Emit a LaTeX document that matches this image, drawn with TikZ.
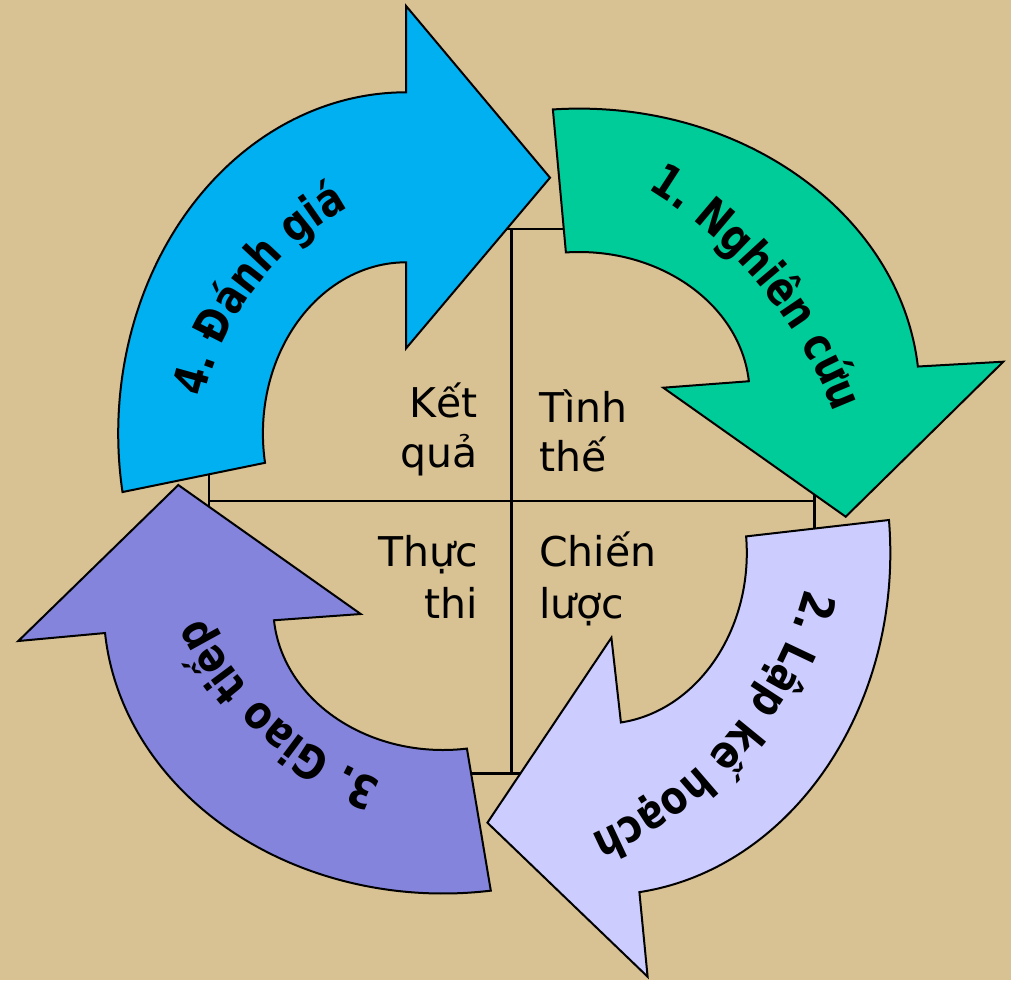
\documentclass[tikz,border=0pt]{standalone}
\usepackage{fontspec}
\usetikzlibrary{calc,decorations.text}
\newfontfamily\dvsans{DejaVu Sans}
\newfontfamily\dvnarrow{DejaVu Sans}[FakeStretch=0.83]
\definecolor{bgtan}{RGB}{216,193,146}
\definecolor{stepgreen}{RGB}{0,204,153}
\definecolor{steplilac}{RGB}{204,204,255}
\definecolor{steppurple}{RGB}{132,132,221}
\definecolor{stepblue}{RGB}{0,176,240}
\newcommand\celltext{\dvsans\fontsize{41}{50}\selectfont}
\newcommand\steptext{\dvnarrow\bfseries\fontsize{46}{46}\selectfont}

\begin{document}
\begin{tikzpicture}[x=1pt,y=1pt,
  gridline/.style={draw=black, line width=2.5pt},
  ringarrow/.style={draw=black, line width=2pt, line join=miter},
  cell/.style={inner sep=0pt, outer sep=0pt, font=\celltext, text=black}]

% canvas
\fill[bgtan] (0,0) rectangle (1011,-980);
\useasboundingbox (0,0) rectangle (1011,-980);

% centres of the four ring arrows
\coordinate (C1) at (579,-394.4);
\coordinate (C2) at (602.3,-552.8);
\coordinate (C3) at (443,-607.6);
\coordinate (C4) at (406.1,-433.4);

% 2x2 grid behind the arrows
\draw[gridline] (209,-229) rectangle (814.5,-773.3);
\draw[gridline] (511.7,-229) -- (511.7,-773.3);
\draw[gridline] (209,-501) -- (814.5,-501);

% quadrant captions
\node[cell, anchor=base east] (ket)   at (478,-417)   {Kết};
\node[cell, anchor=base east] (qua)   at (478,-467)   {quả};
\node[cell, anchor=base west] (tinh)  at (539,-422.5) {Tình};
\node[cell, anchor=base west] (the)   at (539,-471)   {thế};
\node[cell, anchor=base east] (thuc)  at (478,-566.7) {Thực};
\node[cell, anchor=base east] (thi)   at (478,-618)   {thi};
\node[cell, anchor=base west] (chien) at (539,-566.7) {Chiến};
\node[cell, anchor=base west] (luoc)  at (539,-618)   {lược};

% 1. research (green)
\filldraw[ringarrow, fill=stepgreen]
  ($(C1)+(94.4:340.5 and 285.8)$)
  arc[start angle=94.4, end angle=5.6, x radius=340.5, y radius=285.8]
  -- (1003.3,-361.7) -- (845.7,-516.7) -- (663.3,-387.7)
  -- ($(C1)+(5.3:170.6 and 142.4)$)
  arc[start angle=5.3, end angle=94.4, x radius=170.6, y radius=142.4]
  -- cycle;

% 2. planning (lilac)
\filldraw[ringarrow, fill=steplilac]
  ($(C2)+(5.5:288 and 342.2)$)
  arc[start angle=5.5, end angle=-82.6, x radius=288, y radius=342.2]
  -- (647.6,-976.7) -- (487.4,-822.7) -- (611.4,-637.7)
  -- ($(C2)+(-82.6:144.5 and 171.1)$)
  arc[start angle=-82.6, end angle=5.5, x radius=144.5, y radius=171.1]
  -- cycle;

% 3. communication (purple)
\filldraw[ringarrow, fill=steppurple]
  ($(C3)+(278.1:339.3 and 285.9)$)
  arc[start angle=278.1, end angle=185.1, x radius=339.3, y radius=285.9]
  -- (18.3,-641) -- (178.3,-485) -- (360.7,-614)
  -- ($(C3)+(185.1:169.7 and 142.4)$)
  arc[start angle=185.1, end angle=278.1, x radius=169.7, y radius=142.4]
  -- cycle;

% 4. evaluation (blue)
\filldraw[ringarrow, fill=stepblue]
  ($(C4)+(189.9:287.9 and 341.1)$)
  arc[start angle=189.9, end angle=90, x radius=287.9, y radius=341.1]
  -- (406.1,-6) -- (550,-177.7) -- (406.1,-348.3)
  -- ($(C4)+(90:143.2 and 171.1)$)
  arc[start angle=90, end angle=189.9, x radius=143.2, y radius=171.1]
  -- cycle;

% curved step labels
\coordinate (Q1) at (415.5,-572.3);
\coordinate (Q2) at (443.2,-490.1);
\coordinate (Q3) at (502.8,-467.5);
\coordinate (Q4) at (486.7,-462.8);

\path[decorate, decoration={text along path, text align=center,
    text={|\steptext|1. Nghiên cứu}}]
  ($(Q1)+(69.85:448)$) arc[start angle=69.85, end angle=9.85, radius=448];
\path[decorate, decoration={text along path, text align=center,
    text={|\steptext|2. Lập kế hoạch}}]
  ($(Q2)+(-1:375)$) arc[start angle=-1, end angle=-81, radius=375];
\path[decorate, decoration={text along path, text align=center,
    text={|\steptext|3. Giao tiếp}}]
  ($(Q3)+(262.7:336)$) arc[start angle=262.7, end angle=192.7, radius=336];
\path[decorate, decoration={text along path, text align=center,
    text={|\steptext|4. Đánh giá}}]
  ($(Q4)+(177.8:290)$) arc[start angle=177.8, end angle=107.8, radius=290];

\end{tikzpicture}
\end{document}
